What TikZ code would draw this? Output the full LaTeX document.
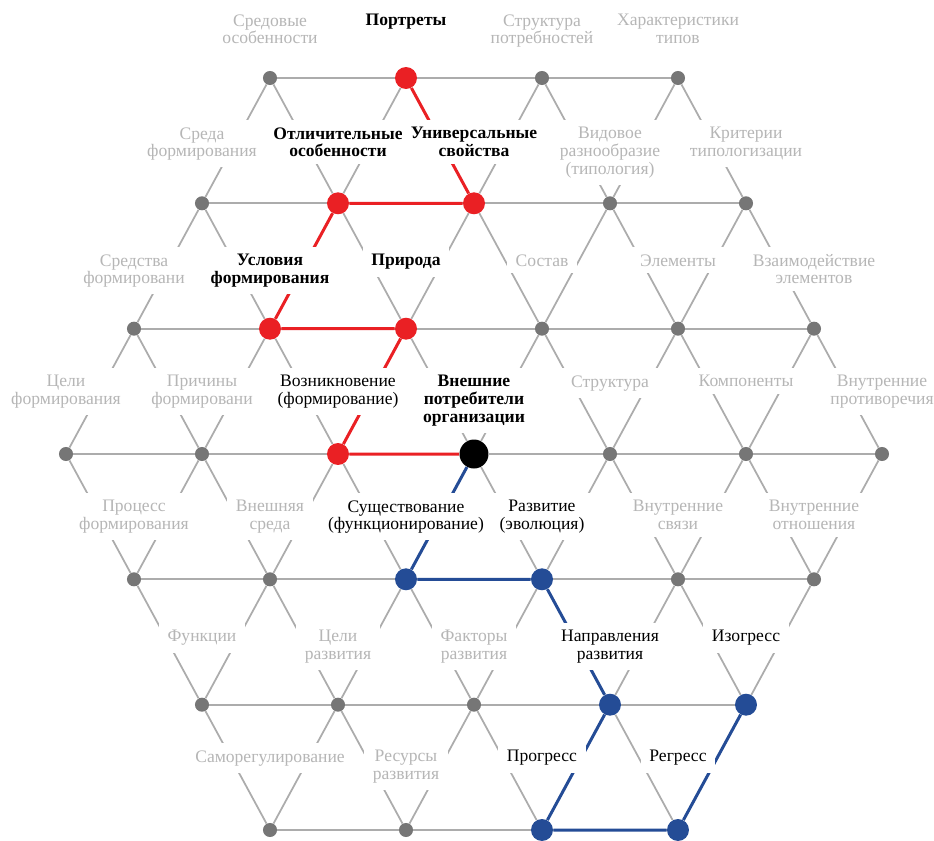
\documentclass[tikz,border=0pt]{standalone}
\usepackage{fontspec}
\setmainfont{Liberation Serif}
\usepackage{xcolor}
\definecolor{dotgray}{RGB}{118,118,118}
\definecolor{linegray}{RGB}{172,172,172}
\definecolor{textgray}{RGB}{182,182,182}
\definecolor{pathred}{RGB}{234,32,36}
\definecolor{pathblue}{RGB}{36,76,150}
\tikzset{
  graydot/.style={circle,fill=dotgray,inner sep=0pt,minimum size=8pt},
  reddot/.style={circle,fill=pathred,inner sep=0pt,minimum size=12.5pt},
  bluedot/.style={circle,fill=pathblue,inner sep=0pt,minimum size=12.5pt},
  blackdot/.style={circle,fill=black,inner sep=0pt,minimum size=16.5pt},
  grayline/.style={draw=linegray,line width=1pt},
  redline/.style={draw=pathred,line width=1.7pt},
  blueline/.style={draw=pathblue,line width=1.7pt},
  lbl/.style={anchor=north,fill=white,align=center,inner xsep=5pt,inner ysep=4pt,
    text=textgray,font=\fontsize{10}{10}\selectfont},
  keylbl/.style={lbl,text=black},
  boldlbl/.style={keylbl,font=\fontsize{10}{10}\selectfont\bfseries}
}

\begin{document}
\begin{tikzpicture}[x=0.02cm,y=-0.02cm]
\useasboundingbox (0,0) rectangle (934,840);

% lattice dots
\foreach \k in {3,5,7,9} \node[graydot] (n0-\k) at ({66+68*\k},78) {};
\foreach \k in {2,4,...,10} \node[graydot] (n1-\k) at ({66+68*\k},203.3) {};
\foreach \k in {1,3,...,11} \node[graydot] (n2-\k) at ({66+68*\k},328.7) {};
\foreach \k in {0,2,...,12} \node[graydot] (n3-\k) at ({66+68*\k},454) {};
\foreach \k in {1,3,...,11} \node[graydot] (n4-\k) at ({66+68*\k},579.3) {};
\foreach \k in {2,4,...,10} \node[graydot] (n5-\k) at ({66+68*\k},704.7) {};
\foreach \k in {3,5,7,9} \node[graydot] (n6-\k) at ({66+68*\k},830) {};

% dots on the two paths
\node[reddot] (n0-5) at (406,78) {};
\node[reddot] (n1-4) at (338,203.3) {};
\node[reddot] (n1-6) at (474,203.3) {};
\node[reddot] (n2-3) at (270,328.7) {};
\node[reddot] (n2-5) at (406,328.7) {};
\node[reddot] (n3-4) at (338,454) {};
\node[blackdot] (n3-6) at (474,454) {};
\node[bluedot] (n4-5) at (406,579.3) {};
\node[bluedot] (n4-7) at (542,579.3) {};
\node[bluedot] (n5-8) at (610,704.7) {};
\node[bluedot] (n5-10) at (746,704.7) {};
\node[bluedot] (n6-7) at (542,830) {};
\node[bluedot] (n6-9) at (678,830) {};

% rows
\foreach \k [evaluate=\k as \j using int(\k+2)] in {3,5,7} \draw[grayline] (n0-\k) -- (n0-\j);
\foreach \k [evaluate=\k as \j using int(\k+2)] in {2,4,...,8} \draw[grayline] (n1-\k) -- (n1-\j);
\foreach \k [evaluate=\k as \j using int(\k+2)] in {1,3,...,9} \draw[grayline] (n2-\k) -- (n2-\j);
\foreach \k [evaluate=\k as \j using int(\k+2)] in {0,2,...,10} \draw[grayline] (n3-\k) -- (n3-\j);
\foreach \k [evaluate=\k as \j using int(\k+2)] in {1,3,...,9} \draw[grayline] (n4-\k) -- (n4-\j);
\foreach \k [evaluate=\k as \j using int(\k+2)] in {2,4,...,8} \draw[grayline] (n5-\k) -- (n5-\j);
\foreach \k [evaluate=\k as \j using int(\k+2)] in {3,5,7} \draw[grayline] (n6-\k) -- (n6-\j);

% slanted links
\foreach \k [evaluate=\k as \a using int(\k-1), evaluate=\k as \b using int(\k+1)] in {3,5,7,9}
  \draw[grayline] (n0-\k) -- (n1-\a) (n0-\k) -- (n1-\b);
\foreach \k [evaluate=\k as \a using int(\k-1), evaluate=\k as \b using int(\k+1)] in {2,4,...,10}
  \draw[grayline] (n1-\k) -- (n2-\a) (n1-\k) -- (n2-\b);
\foreach \k [evaluate=\k as \a using int(\k-1), evaluate=\k as \b using int(\k+1)] in {1,3,...,11}
  \draw[grayline] (n2-\k) -- (n3-\a) (n2-\k) -- (n3-\b);
\foreach \k [evaluate=\k as \a using int(\k-1), evaluate=\k as \b using int(\k+1)] in {1,3,...,11}
  \draw[grayline] (n4-\k) -- (n3-\a) (n4-\k) -- (n3-\b);
\foreach \k [evaluate=\k as \a using int(\k-1), evaluate=\k as \b using int(\k+1)] in {2,4,...,10}
  \draw[grayline] (n5-\k) -- (n4-\a) (n5-\k) -- (n4-\b);
\foreach \k [evaluate=\k as \a using int(\k-1), evaluate=\k as \b using int(\k+1)] in {3,5,7,9}
  \draw[grayline] (n6-\k) -- (n5-\a) (n6-\k) -- (n5-\b);

% red and blue paths
\draw[redline] (n0-5) -- (n1-6) -- (n1-4) -- (n2-3) -- (n2-5) -- (n3-4) -- (n3-6);
\draw[blueline] (n3-6) -- (n4-5) -- (n4-7) -- (n5-8) -- (n6-7) -- (n6-9) -- (n5-10);

% labels, top
\node[lbl] (l0-3) at (270,7) {Средовые\\особенности};
\node[boldlbl] (l0-5) at (406,7) {Портреты};
\node[lbl] (l0-7) at (542,7) {Структура\\потребностей};
\node[lbl] (l0-9) at (678,7) {Характеристики\\типов};
% labels, row 1
\node[lbl] (l1-2) at (202,120) {Среда\\формирования};
\node[boldlbl] (l1-4) at (338,120) {Отличительные\\особенности};
\node[boldlbl] (l1-6) at (474,120) {Универсальные\\свойства};
\node[lbl] (l1-8) at (610,120) {Видовое\\разнообразие\\(типология)};
\node[lbl] (l1-10) at (746,120) {Критерии\\типологизации};
% labels, row 2
\node[lbl] (l2-1) at (134,247) {Средства\\формировани};
\node[boldlbl] (l2-3) at (270,247) {Условия\\формирования};
\node[boldlbl] (l2-5) at (406,247) {Природа};
\node[lbl] (l2-7) at (542,247) {Состав};
\node[lbl] (l2-9) at (678,247) {Элементы};
\node[lbl] (l2-11) at (814,247) {Взаимодействие\\элементов};
% labels, row 3
\node[lbl] (l3-0) at (66,368) {Цели\\формирования};
\node[lbl] (l3-2) at (202,368) {Причины\\формировани};
\node[keylbl] (l3-4) at (338,368) {Возникновение\\(формирование)};
\node[boldlbl] (l3-6) at (474,368) {Внешние\\потребители\\организации};
\node[lbl] (l3-8) at (610,368) {Структура};
\node[lbl] (l3-10) at (746,368) {Компоненты};
\node[lbl] (l3-12) at (882,368) {Внутренние\\противоречия};
% labels, row 4
\node[lbl] (l4-1) at (134,493) {Процесс\\формирования};
\node[lbl] (l4-3) at (270,493) {Внешняя\\среда};
\node[keylbl] (l4-5) at (406,493) {Существование\\(функционирование)};
\node[keylbl] (l4-7) at (542,493) {Развитие\\(эволюция)};
\node[lbl] (l4-9) at (678,493) {Внутренние\\связи};
\node[lbl] (l4-11) at (814,493) {Внутренние\\отношения};
% labels, row 5
\node[lbl] (l5-2) at (202,623) {Функции};
\node[lbl] (l5-4) at (338,623) {Цели\\развития};
\node[lbl] (l5-6) at (474,623) {Факторы\\развития};
\node[keylbl] (l5-8) at (610,623) {Направления\\развития};
\node[keylbl] (l5-10) at (746,623) {Изогресс};
% labels, row 6
\node[lbl] (l6-3) at (270,743) {Саморегулирование};
\node[lbl] (l6-5) at (406,743) {Ресурсы\\развития};
\node[keylbl] (l6-7) at (542,743) {Прогресс};
\node[keylbl] (l6-9) at (678,743) {Регресс};
\end{tikzpicture}
\end{document}
